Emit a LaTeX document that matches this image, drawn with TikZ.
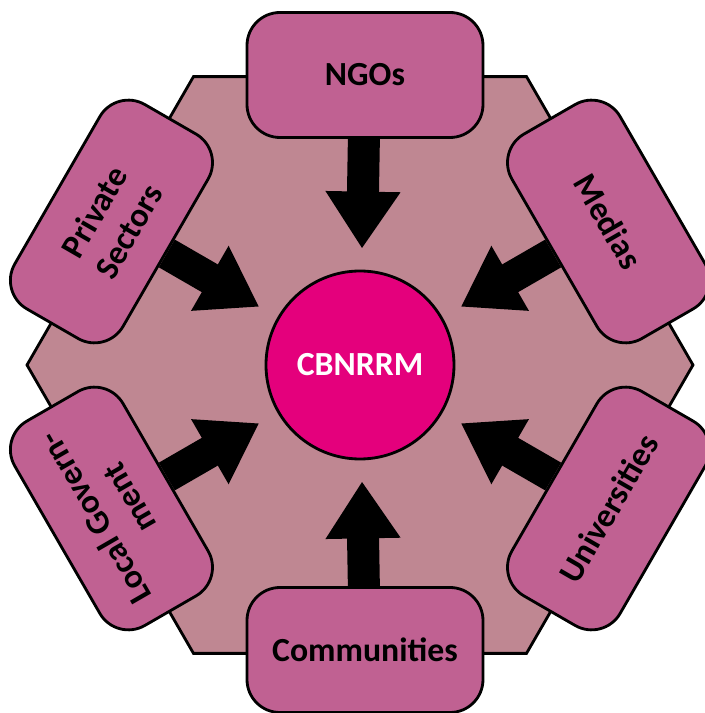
\documentclass[tikz,border=0pt]{standalone}
\usepackage{fontspec}
\setmainfont{Carlito}
\usetikzlibrary{arrows.meta,backgrounds}
\definecolor{hexpink}{RGB}{191,135,146}
\definecolor{boxpink}{RGB}{192,97,146}
\definecolor{hubpink}{RGB}{228,0,124}

\begin{document}
\begin{tikzpicture}[
	group/.style={draw, line width=1.6pt, fill=boxpink, rounded corners=0.66cm,
		minimum width=4.72cm, minimum height=2.5cm, align=center,
		font=\fontsize{19.2}{22.5}\selectfont\bfseries},
	hub/.style={circle, draw, line width=1.6pt, fill=hubpink, minimum size=3.76cm,
		inner sep=0pt, text=white, font=\fontsize{19.2}{22.5}\selectfont\bfseries},
	flow/.style={line width=0.64cm, -{Triangle[length=1.14cm, width=1.42cm]},
		shorten >=0.42cm}]
	\useasboundingbox (-7.2,-6.96) rectangle (6.9,7.3);
	% centre and the six groups around it
	\node[hub] (hub) at (0,0) {CBNRRM};
	\node[group] (ngo) at (0.1,5.8) {NGOs};
	\node[group, rotate=-60] (media) at (30:5.74) {Medias};
	\node[group, rotate=60] (private) at (150:5.74) {Private\\Sectors};
	\node[group, rotate=120] (local) at (210:5.74) {Local Govern-\\ment};
	\node[group] (comm) at (0.1,-5.7) {Communities};
	\node[group, rotate=60] (univ) at (330:5.74) {Universities};
	\begin{pgfonlayer}{background}
		\draw[line width=1.6pt, fill=hexpink] (0:6.66) -- (60:6.66) -- (120:6.66)
			-- (180:6.66) -- (240:6.66) -- (300:6.66) -- cycle;
		\foreach \src in {ngo,media,private,local,comm,univ}
			\draw[flow] (\src) -- (hub);
	\end{pgfonlayer}
\end{tikzpicture}
\end{document}
